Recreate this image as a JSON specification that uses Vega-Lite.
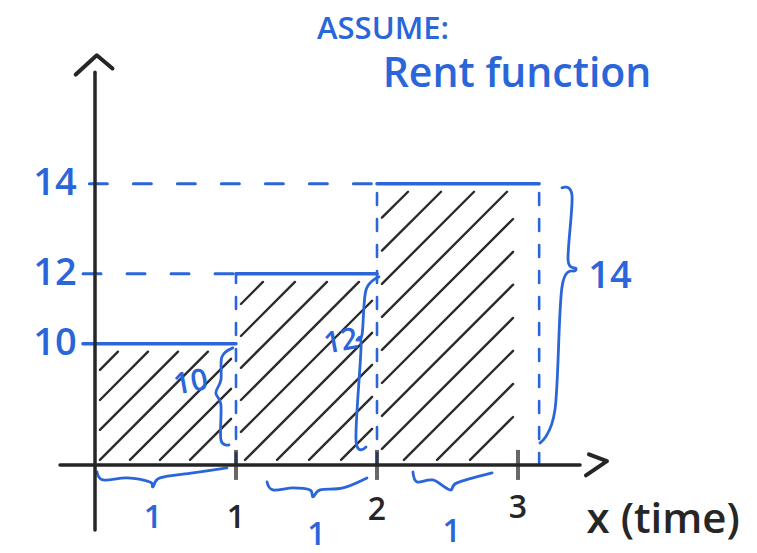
{
  "$schema": "https://vega.github.io/schema/vega-lite/v6.json",
  "width": 757,
  "height": 553,
  "autosize": {"type": "none"},
  "padding": 0,
  "background": "white",
  "config": {"view": {"stroke": null}, "text": {"font": "Open Sans", "fontWeight": 600}},
  "encoding": {
    "x": {"field": "x", "type": "quantitative", "scale": {"domain": [-0.6738, 4.695], "nice": false, "zero": false}, "axis": null},
    "y": {"field": "y", "type": "quantitative", "scale": {"type": "pow", "exponent": 2.5, "domain": [-8.8, 17.12], "nice": false, "zero": false}, "axis": null}
  },
  "layer": [
    {
      "data": {"values": [
        {"x": 0.035, "y": 9.07, "x2": 0.163, "y2": 9.73},
        {"x": 0.035, "y": 7.79, "x2": 0.376, "y2": 9.73},
        {"x": 0.035, "y": 6.09, "x2": 0.589, "y2": 9.73},
        {"x": 0.035, "y": 2.79, "x2": 0.801, "y2": 9.73},
        {"x": 0.248, "y": 2.79, "x2": 0.965, "y2": 9.48},
        {"x": 0.461, "y": 2.79, "x2": 0.965, "y2": 8.30},
        {"x": 0.674, "y": 2.79, "x2": 0.965, "y2": 6.79},
        {"x": 1.035, "y": 11.20, "x2": 1.191, "y2": 11.79},
        {"x": 1.035, "y": 10.25, "x2": 1.418, "y2": 11.79},
        {"x": 1.035, "y": 9.15, "x2": 1.645, "y2": 11.79},
        {"x": 1.035, "y": 7.79, "x2": 1.872, "y2": 11.79},
        {"x": 1.035, "y": 5.94, "x2": 1.965, "y2": 11.29},
        {"x": 1.064, "y": 2.79, "x2": 1.965, "y2": 10.35},
        {"x": 1.291, "y": 2.79, "x2": 1.965, "y2": 9.26},
        {"x": 1.518, "y": 2.79, "x2": 1.965, "y2": 7.94},
        {"x": 1.745, "y": 2.79, "x2": 1.965, "y2": 6.15},
        {"x": 2.035, "y": 13.30, "x2": 2.220, "y2": 13.84},
        {"x": 2.035, "y": 12.56, "x2": 2.454, "y2": 13.84},
        {"x": 2.035, "y": 11.74, "x2": 2.688, "y2": 13.84},
        {"x": 2.035, "y": 10.83, "x2": 2.922, "y2": 13.84},
        {"x": 2.035, "y": 9.79, "x2": 2.965, "y2": 13.27},
        {"x": 2.035, "y": 8.55, "x2": 2.965, "y2": 12.53},
        {"x": 2.035, "y": 6.96, "x2": 2.965, "y2": 11.72},
        {"x": 2.035, "y": 4.45, "x2": 2.965, "y2": 10.80},
        {"x": 2.191, "y": 2.79, "x2": 2.965, "y2": 9.76},
        {"x": 2.426, "y": 2.79, "x2": 2.965, "y2": 8.51},
        {"x": 2.660, "y": 2.79, "x2": 2.965, "y2": 6.90}
      ]},
      "mark": {"type": "rule", "color": "#2b2b2b", "strokeWidth": 2.4, "strokeCap": "round"},
      "encoding": {"x2": {"field": "x2"}, "y2": {"field": "y2"}}
    },
    {
      "data": {"values": [
        {"x": -0.085, "y": 12, "x2": 1, "y2": 12},
        {"x": -0.04, "y": 14, "x2": 2, "y2": 14}
      ]},
      "mark": {"type": "rule", "color": "#2a66d9", "strokeWidth": 3, "strokeDash": [18, 26], "strokeCap": "round"},
      "encoding": {"x2": {"field": "x2"}, "y2": {"field": "y2"}}
    },
    {
      "data": {"values": [
        {"x": 1, "y": 0, "x2": 1, "y2": 12},
        {"x": 2, "y": 0, "x2": 2, "y2": 14},
        {"x": 3.15, "y": 0, "x2": 3.15, "y2": 14}
      ]},
      "mark": {"type": "rule", "color": "#2a66d9", "strokeWidth": 2.6, "strokeDash": [12, 14], "strokeCap": "round"},
      "encoding": {"x2": {"field": "x2"}, "y2": {"field": "y2"}}
    },
    {
      "data": {"values": [
        {"x": -0.085, "y": 10, "x2": 1.0, "y2": 10},
        {"x": 1, "y": 12, "x2": 2, "y2": 12},
        {"x": 2, "y": 14, "x2": 3.15, "y2": 14}
      ]},
      "mark": {"type": "rule", "color": "#2a66d9", "strokeWidth": 3.6, "strokeCap": "round"},
      "encoding": {"x2": {"field": "x2"}, "y2": {"field": "y2"}}
    },
    {
      "data": {"values": [
        {"b": "A", "o": 1, "x": 0.014, "y": -3.20},
        {"b": "A", "o": 2, "x": 0.057, "y": -4.34},
        {"b": "A", "o": 3, "x": 0.227, "y": -4.09},
        {"b": "A", "o": 4, "x": 0.390, "y": -4.56},
        {"b": "A", "o": 5, "x": 0.411, "y": -5.05},
        {"b": "A", "o": 6, "x": 0.461, "y": -4.09},
        {"b": "A", "o": 7, "x": 0.695, "y": -3.37},
        {"b": "A", "o": 8, "x": 0.936, "y": -2.28},
        {"b": "B", "o": 1, "x": 1.220, "y": -4.56},
        {"b": "B", "o": 2, "x": 1.262, "y": -5.32},
        {"b": "B", "o": 3, "x": 1.404, "y": -5.14},
        {"b": "B", "o": 4, "x": 1.525, "y": -5.32},
        {"b": "B", "o": 5, "x": 1.546, "y": -5.87},
        {"b": "B", "o": 6, "x": 1.596, "y": -5.32},
        {"b": "B", "o": 7, "x": 1.759, "y": -5.14},
        {"b": "B", "o": 8, "x": 1.929, "y": -4.09},
        {"b": "C", "o": 1, "x": 2.255, "y": -3.20},
        {"b": "C", "o": 2, "x": 2.284, "y": -4.56},
        {"b": "C", "o": 3, "x": 2.397, "y": -4.34},
        {"b": "C", "o": 4, "x": 2.518, "y": -5.32},
        {"b": "C", "o": 5, "x": 2.567, "y": -4.66},
        {"b": "C", "o": 6, "x": 2.816, "y": -3.37},
        {"b": "D", "o": 1, "x": 0.978, "y": 9.86},
        {"b": "D", "o": 2, "x": 0.900, "y": 9.55},
        {"b": "D", "o": 3, "x": 0.893, "y": 8.68},
        {"b": "D", "o": 4, "x": 0.857, "y": 8.12},
        {"b": "D", "o": 5, "x": 0.893, "y": 7.55},
        {"b": "D", "o": 6, "x": 0.893, "y": 5.32},
        {"b": "D", "o": 7, "x": 0.950, "y": 4.87},
        {"b": "E", "o": 1, "x": 2.014, "y": 11.92},
        {"b": "E", "o": 2, "x": 1.922, "y": 11.58},
        {"b": "E", "o": 3, "x": 1.894, "y": 10.29},
        {"b": "E", "o": 4, "x": 1.858, "y": 10.12},
        {"b": "E", "o": 5, "x": 1.887, "y": 9.93},
        {"b": "E", "o": 6, "x": 1.851, "y": 5.32},
        {"b": "E", "o": 7, "x": 1.922, "y": 4.66},
        {"b": "F", "o": 1, "x": 3.312, "y": 13.92},
        {"b": "F", "o": 2, "x": 3.383, "y": 13.76},
        {"b": "F", "o": 3, "x": 3.355, "y": 12.34},
        {"b": "F", "o": 4, "x": 3.411, "y": 12.10},
        {"b": "F", "o": 5, "x": 3.312, "y": 11.66},
        {"b": "F", "o": 6, "x": 3.262, "y": 7.29},
        {"b": "F", "o": 7, "x": 3.156, "y": 5.05}
      ]},
      "mark": {"type": "line", "color": "#2a66d9", "strokeWidth": 2.8, "interpolate": "cardinal", "strokeCap": "round"},
      "encoding": {"detail": {"field": "b"}, "order": {"field": "o", "type": "quantitative"}}
    },
    {
      "data": {"values": [
        {"x": -0.248, "y": 0, "x2": 3.44, "y2": 0},
        {"x": 0, "y": -7.8, "x2": 0, "y2": 16.0}
      ]},
      "mark": {"type": "rule", "color": "#262626", "strokeWidth": 3.5, "strokeCap": "round"},
      "encoding": {"x2": {"field": "x2"}, "y2": {"field": "y2"}}
    },
    {
      "data": {"values": [{"x": 1, "y": 0}, {"x": 2, "y": 0}, {"x": 3, "y": 0}]},
      "mark": {"type": "tick", "orient": "vertical", "color": "#262626", "size": 30, "thickness": 4}
    },
    {
      "data": {"values": [{"x": 0, "y": 16.12}]},
      "mark": {"type": "point", "shape": "M-1.1,0.55L0.1,-0.55L1,0.2", "size": 1225, "filled": false, "stroke": "#262626", "strokeWidth": 4, "strokeCap": "round", "strokeJoin": "round", "opacity": 1}
    },
    {
      "data": {"values": [{"x": 3.567, "y": 0}]},
      "mark": {"type": "point", "shape": "M-0.6,-0.7L0.6,-0.25L-0.8,0.7", "size": 900, "filled": false, "stroke": "#262626", "strokeWidth": 4, "strokeCap": "round", "strokeJoin": "round", "opacity": 1}
    },
    {
      "data": {"values": [{"x": 2.043, "y": 16.67, "t": "ASSUME:"}]},
      "mark": {"type": "text", "color": "#2a66d9", "fontSize": 31, "align": "center", "baseline": "middle"},
      "encoding": {"text": {"field": "t"}}
    },
    {
      "data": {"values": [{"x": 2.993, "y": 15.96, "t": "Rent function"}]},
      "mark": {"type": "text", "color": "#2a66d9", "fontSize": 41, "align": "center", "baseline": "middle"},
      "encoding": {"text": {"field": "t"}}
    },
    {
      "data": {"values": [
        {"x": -0.284, "y": 14, "t": "14"},
        {"x": -0.284, "y": 12, "t": "12"},
        {"x": -0.284, "y": 10, "t": "10"},
        {"x": 3.652, "y": 11.92, "t": "14"}
      ]},
      "mark": {"type": "text", "color": "#2a66d9", "fontSize": 38, "align": "center", "baseline": "middle"},
      "encoding": {"text": {"field": "t"}}
    },
    {
      "data": {"values": [
        {"x": 0.68, "y": 8.55, "t": "10"},
        {"x": 1.745, "y": 10.06, "t": "12"}
      ]},
      "mark": {"type": "text", "color": "#2a66d9", "fontSize": 30, "align": "center", "baseline": "middle", "angle": -10},
      "encoding": {"text": {"field": "t"}}
    },
    {
      "data": {"values": [
        {"x": 0.41, "y": -7.18, "t": "1"},
        {"x": 1.57, "y": -8.03, "t": "1"},
        {"x": 2.53, "y": -7.89, "t": "1"}
      ]},
      "mark": {"type": "text", "color": "#2a66d9", "fontSize": 32, "align": "center", "baseline": "middle"},
      "encoding": {"text": {"field": "t"}}
    },
    {
      "data": {"values": [
        {"x": 1, "y": -7.18, "t": "1"},
        {"x": 2, "y": -6.73, "t": "2"},
        {"x": 3, "y": -6.61, "t": "3"}
      ]},
      "mark": {"type": "text", "color": "#262626", "fontSize": 32, "align": "center", "baseline": "middle"},
      "encoding": {"text": {"field": "t"}}
    },
    {
      "data": {"values": [{"x": 4.03, "y": -7.29, "t": "x (time)"}]},
      "mark": {"type": "text", "color": "#262626", "fontSize": 42, "align": "center", "baseline": "middle"},
      "encoding": {"text": {"field": "t"}}
    }
  ]
}
